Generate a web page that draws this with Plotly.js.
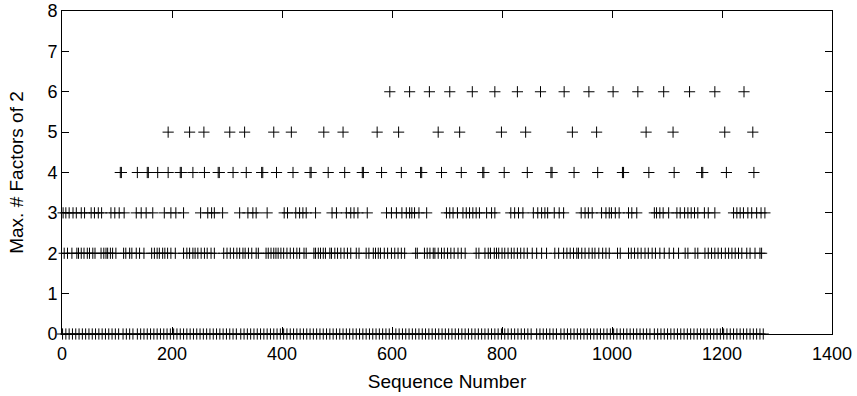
<!DOCTYPE html>
<html>
<head>
<meta charset="utf-8">
<script src="https://cdn.plot.ly/plotly-3.0.1.min.js"></script>
<style>html,body{margin:0;padding:0;background:#fff;}#plot{width:857px;height:396px;}</style>
</head>
<body>
<div id="plot"></div>
<script>
// Sequence numbers for each "max # factors of 2" level
var level0 = [1, 7, 13, 19, 25, 31, 37, 43, 49, 55, 61, 67, 73, 79, 85, 91, 97, 103, 111, 117, 123, 129, 137, 143, 149, 155, 161, 167, 173, 179, 185, 191, 197, 203, 209, 215, 221, 227, 233, 239, 245, 251, 257, 263, 269, 275, 281, 287, 293, 299, 305, 311, 317, 325, 331, 337, 343, 349, 355, 361, 367, 373, 379, 385, 391, 397, 403, 409, 415, 421, 427, 433, 439, 445, 451, 457, 463, 469, 475, 481, 487, 493, 499, 505, 511, 517, 523, 529, 535, 541, 547, 553, 559, 565, 571, 577, 583, 589, 595, 601, 607, 613, 619, 625, 631, 637, 643, 649, 655, 661, 667, 673, 679, 685, 691, 697, 703, 709, 715, 721, 727, 733, 739, 745, 751, 757, 763, 769, 775, 781, 787, 793, 799, 805, 811, 817, 823, 829, 835, 841, 847, 853, 863, 869, 875, 881, 887, 893, 899, 907, 913, 919, 925, 931, 937, 943, 949, 955, 961, 967, 973, 979, 985, 991, 997, 1003, 1009, 1015, 1021, 1027, 1033, 1039, 1045, 1051, 1057, 1063, 1069, 1077, 1083, 1089, 1095, 1101, 1107, 1113, 1119, 1125, 1131, 1137, 1143, 1149, 1155, 1161, 1167, 1173, 1179, 1185, 1191, 1197, 1203, 1209, 1215, 1221, 1227, 1233, 1239, 1245, 1251, 1257, 1263, 1269, 1275];
var level2 = [4, 10, 18, 27, 30, 35, 40, 46, 50, 56, 60, 71, 76, 80, 83, 88, 92, 98, 112, 116, 123, 127, 135, 141, 149, 163, 168, 173, 177, 183, 187, 192, 198, 206, 221, 227, 232, 238, 242, 247, 253, 259, 264, 271, 277, 294, 300, 306, 312, 318, 323, 329, 333, 339, 345, 353, 357, 371, 375, 380, 385, 389, 393, 398, 403, 409, 415, 421, 427, 432, 440, 444, 458, 461, 466, 470, 475, 479, 487, 490, 496, 501, 507, 513, 519, 525, 535, 540, 553, 558, 566, 570, 575, 579, 586, 592, 599, 605, 611, 617, 623, 643, 646, 659, 664, 669, 675, 678, 684, 690, 695, 701, 707, 713, 720, 726, 733, 753, 758, 769, 775, 779, 786, 790, 794, 800, 805, 811, 817, 822, 828, 834, 840, 846, 855, 863, 872, 881, 896, 903, 912, 918, 924, 930, 936, 939, 945, 951, 958, 964, 969, 976, 983, 989, 995, 1010, 1015, 1030, 1035, 1041, 1047, 1053, 1060, 1066, 1073, 1079, 1087, 1095, 1104, 1112, 1121, 1133, 1138, 1151, 1156, 1169, 1175, 1181, 1187, 1193, 1199, 1206, 1212, 1218, 1224, 1230, 1236, 1245, 1251, 1260, 1269, 1272];
var level3 = [2, 7, 13, 20, 26, 35, 41, 53, 59, 66, 72, 89, 96, 104, 113, 135, 144, 153, 165, 186, 198, 207, 221, 252, 265, 272, 277, 292, 323, 338, 347, 353, 373, 404, 410, 425, 432, 438, 444, 461, 491, 499, 517, 525, 531, 538, 555, 590, 599, 608, 618, 626, 632, 636, 641, 649, 663, 699, 705, 711, 719, 729, 735, 741, 747, 753, 759, 772, 781, 787, 816, 823, 830, 838, 857, 865, 872, 878, 883, 895, 904, 912, 944, 951, 957, 964, 981, 989, 995, 999, 1006, 1013, 1030, 1036, 1045, 1077, 1081, 1087, 1093, 1103, 1118, 1124, 1132, 1138, 1144, 1150, 1156, 1168, 1175, 1187, 1221, 1227, 1233, 1239, 1247, 1254, 1263, 1271, 1278];
var level4 = [106, 108, 137, 155, 157, 174, 193, 215, 217, 238, 259, 284, 286, 311, 335, 363, 365, 390, 420, 451, 453, 484, 514, 546, 548, 581, 617, 652, 654, 690, 726, 765, 767, 804, 846, 889, 891, 931, 974, 1019, 1021, 1067, 1113, 1163, 1165, 1208, 1258];
var level5 = [193, 232, 258, 305, 332, 385, 417, 476, 511, 573, 612, 684, 723, 799, 843, 928, 972, 1062, 1111, 1205, 1256];
var level6 = [596, 632, 668, 705, 746, 787, 828, 870, 913, 958, 1002, 1047, 1094, 1141, 1187, 1240];

var levels = [[0, level0], [2, level2], [3, level3], [4, level4], [5, level5], [6, level6]];
var traces = levels.map(function (lv) {
  return {
    type: 'scatter', mode: 'markers',
    x: lv[1],
    y: lv[1].map(function () { return lv[0]; }),
    cliponaxis: false,
    marker: {symbol: 'cross-thin', size: 8, color: '#000', line: {color: '#000', width: 1}},
    hoverinfo: 'x+y'
  };
});

var tickFont = {family: '"Liberation Sans", Arial, sans-serif', size: 18, color: '#000'};
var titleFont = {family: '"Liberation Sans", Arial, sans-serif', size: 19, color: '#000'};
var axisCommon = {
  ticks: 'inside', ticklen: 7, tickcolor: '#000', tickwidth: 1,
  showline: true, linecolor: '#000', linewidth: 1, mirror: 'ticks',
  showgrid: false, zeroline: false, tickfont: tickFont
};
var layout = {
  width: 857, height: 396,
  margin: {l: 62, r: 25, t: 11, b: 62},
  paper_bgcolor: '#fff', plot_bgcolor: '#fff',
  showlegend: false,
  font: tickFont,
  xaxis: Object.assign({}, axisCommon, {range: [0, 1400], dtick: 200, tick0: 0,
    ticklabelstandoff: 3,
    title: {text: 'Sequence Number', font: titleFont, standoff: 12}}),
  yaxis: Object.assign({}, axisCommon, {range: [0, 8], dtick: 1, tick0: 0,
    title: {text: 'Max. # Factors of 2', font: titleFont, standoff: 18}})
};
Plotly.newPlot('plot', traces, layout, {staticPlot: true, displayModeBar: false});
</script>
</body>
</html>
